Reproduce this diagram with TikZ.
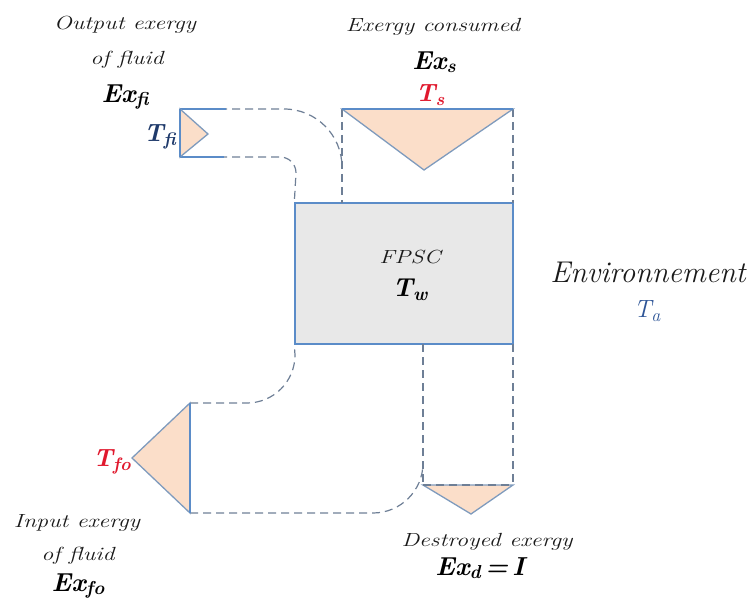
\documentclass[tikz,border=0pt]{standalone}
\usepackage{fontspec}
\definecolor{lineblue}{HTML}{5B8CC8}
\definecolor{dashgrey}{HTML}{6E7F96}
\definecolor{peach}{HTML}{FBDEC9}
\definecolor{boxgrey}{HTML}{E8E8E8}
\definecolor{tred}{HTML}{E0182D}
\definecolor{navy}{HTML}{1F3A6B}
\definecolor{tablue}{HTML}{2E5597}
\definecolor{txtgrey}{HTML}{1A1A1A}
\newcommand\lbl[2]{#1\raisebox{-0.3ex}{\scalebox{0.72}{#2}}}
\newcommand\wide[1]{\scalebox{1.26}[1]{#1}}
\begin{document}
\begin{tikzpicture}[x=1pt,y=-1pt,
  solidline/.style={draw=lineblue,line width=1.4pt},
  dashline/.style={draw=dashgrey,line width=1.2pt,dash pattern=on 8pt off 5pt},
  tri/.style={fill=peach,draw=lineblue!80!black!70,line width=1.3pt,line join=miter},
  smalltxt/.style={font=\fontsize{19}{22}\selectfont\itshape,inner sep=0pt,text=txtgrey},
  bigtxt/.style={font=\fontsize{26}{29}\selectfont\bfseries\itshape,inner sep=0pt},
  ttxt/.style={font=\fontsize{25}{28}\selectfont\bfseries\itshape,inner sep=0pt}]
\useasboundingbox (0,0) rectangle (753,604);
% coordinates
\coordinate (fiT) at (180,109);
\coordinate (fiB) at (180,157);
\coordinate (fiTip) at (208,134);
\coordinate (sTL) at (342,109);
\coordinate (sTR) at (513,109);
\coordinate (sTip) at (424,170);
\coordinate (sBL) at (342,203);
\coordinate (sBR) at (513,203);
\coordinate (foT) at (190,403);
\coordinate (foB) at (190,513);
\coordinate (foTip) at (132,458);
\coordinate (dTL) at (423,344);
\coordinate (dTR) at (513,344);
\coordinate (dBL) at (423,485);
\coordinate (dBR) at (513,485);
\coordinate (dTip) at (471,514);
% FPSC box
\node[draw=lineblue,line width=1.4pt,fill=boxgrey,minimum width=218pt,minimum height=141pt,inner sep=0pt] (fpsc) at (404,273.5) {};
% exergy consumed box
\draw[dashline] (sTL) -- (sBL);
\draw[dashline] (sTR) -- (sBR);
\draw[tri] (sTL) -- (sTR) -- (sTip) -- cycle;
\draw[solidline] (sTL) -- (sTR);
% fluid outlet
\draw[dashline] (fiT) -- (284,109) .. controls (316,109) and (342,135) .. (342,167);
\draw[dashline] (fiB) -- (280,157) .. controls (289,157) and (296,164) .. (296,173) -- (fpsc.north west);
\draw[solidline] (fiT) -- (226,109);
\draw[solidline] (fiB) -- (224,157);
\draw[tri] (fiT) -- (fiTip) -- (fiB) -- cycle;
\draw[solidline] (fiT) -- (fiB);
% fluid inlet
\draw[dashline] (foT) -- (247,403) .. controls (273.5,403) and (295,381.5) .. (295,355) -- (fpsc.south west);
\draw[dashline] (foB) -- (373,513) .. controls (400.6,513) and (423,490.6) .. (423,463);
\draw[tri] (foT) -- (foTip) -- (foB) -- cycle;
\draw[solidline] (foT) -- (foB);
% destroyed box
\draw[dashline] (dTL) -- (dBL);
\draw[dashline] (dTR) -- (dBR);
\draw[tri] (dBL) -- (dBR) -- (dTip) -- cycle;
\draw[dashline] (dBL) -- (dBR);
% texts
\node[smalltxt] (t1) at (125,25) {\wide{Output exergy}};
\node[smalltxt] (t2) at (127,60) {\wide{of fluid}};
\node[bigtxt] (t3) at (125,97) {\lbl{Ex}{fi}};
\node[ttxt,text=navy,anchor=east] (t4) at (176,137) {\lbl{T}{fi}};
\node[smalltxt] (t5) at (433,27) {\wide{Exergy consumed}};
\node[bigtxt] (t6) at (434,62) {\lbl{Ex}{s}};
\node[ttxt,text=tred] (t7) at (430,95) {\lbl{T}{s}};
\node[smalltxt] (t8) at (410,257) {\wide{FPSC}};
\node[bigtxt] (t9) at (410,290) {\lbl{T}{w}};
\node[font=\fontsize{30}{34}\selectfont\itshape,inner sep=0pt,text=txtgrey] (t10) at (648,272) {Environnement};
\node[font=\fontsize{25}{28}\selectfont\itshape,inner sep=0pt,text=tablue] (t11) at (647,311) {\lbl{T}{a}};
\node[ttxt,text=tred,anchor=east] (t12) at (131,462) {\lbl{T}{fo}};
\node[smalltxt] (t13) at (77,523) {\wide{Input exergy}};
\node[smalltxt] (t14) at (78,556) {\wide{of fluid}};
\node[bigtxt] (t15) at (78,586) {\lbl{Ex}{fo}};
\node[smalltxt] (t16) at (487,542) {\wide{Destroyed exergy}};
\node[bigtxt] (t17) at (480,568) {\lbl{Ex}{d}\,=\,I};
\end{tikzpicture}
\end{document}
